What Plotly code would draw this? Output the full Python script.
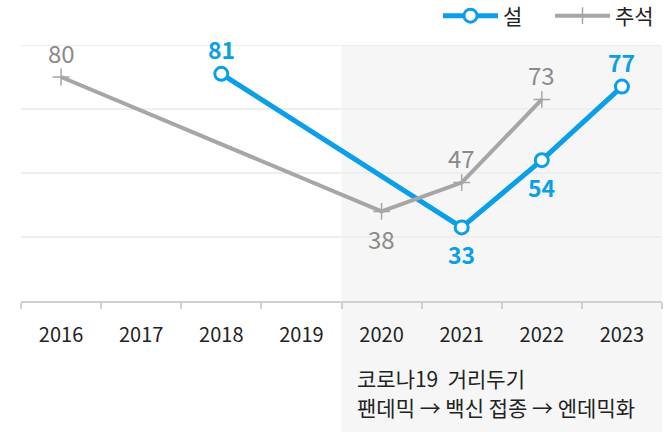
import plotly.graph_objects as go

years = ["2016", "2017", "2018", "2019", "2020", "2021", "2022", "2023"]
seol = [None, None, 81, None, None, 33, 54, 77]
chuseok = [80, None, None, None, 38, 47, 73, None]
# label side: 1 = above the point, -1 = below
seol_side = [1, 1, 1, 1, 1, -1, -1, 1]
chuseok_side = [1, 1, 1, 1, -1, 1, 1, 1]
grid_vals = [10, 30, 50, 70, 90]
note_lines = ["코로나19  거리두기", "팬데믹 → 백신 접종 → 엔데믹화"]

FONT = "Noto Sans CJK KR"
BLUE = "#0a9fe8"
GRAY = "#a6a6a6"

fig = go.Figure()
fig.add_trace(go.Scatter(
    x=years, y=seol, name="설", mode="lines+markers",
    connectgaps=True,
    line=dict(color=BLUE, width=5),
    marker=dict(symbol="circle", size=13, color="white", line=dict(color=BLUE, width=3)),
    cliponaxis=False,
))
fig.add_trace(go.Scatter(
    x=years, y=chuseok, name="추석", mode="lines+markers",
    connectgaps=True,
    line=dict(color=GRAY, width=4),
    marker=dict(symbol="cross-thin", size=12, color=GRAY, line=dict(color=GRAY, width=1.5)),
    cliponaxis=False,
))

for ys, sides, col, bold, size in [
    (seol, seol_side, BLUE, "bold", 23),
    (chuseok, chuseok_side, "#8a8a8a", "normal", 24),
]:
    for i, (yv, sd) in enumerate(zip(ys, sides)):
        if yv is None:
            continue
        fig.add_annotation(x=i, y=yv, xref="x", yref="y", text=str(yv), showarrow=False,
                           yshift=25 if sd > 0 else -27,
                           font=dict(family=FONT, size=size, color=col, weight=bold))

fig.add_shape(type="rect", xref="paper", yref="paper", x0=0.5, x1=1.0, y0=-0.55, y1=1.0,
              fillcolor="#f6f6f6", line=dict(width=0), layer="below")
# top gridline (at range edge)
fig.add_shape(type="line", xref="paper", yref="y", x0=0, x1=1, y0=grid_vals[-1], y1=grid_vals[-1],
              line=dict(color="#eeeeee", width=2), layer="below")

fig.add_annotation(xref="paper", yref="paper", x=0.521, y=-0.299, xanchor="left", yanchor="middle",
                   text=note_lines[0], showarrow=False,
                   font=dict(family=FONT, size=21, color="#222222"))
fig.add_annotation(xref="paper", yref="paper", x=0.521, y=-0.414, xanchor="left", yanchor="middle",
                   text=note_lines[1], showarrow=False,
                   font=dict(family=FONT, size=21, color="#222222"))

fig.update_layout(
    width=671, height=432,
    margin=dict(l=21, r=9, t=45, b=131, autoexpand=False),
    paper_bgcolor="white", plot_bgcolor="rgba(0,0,0,0)",
    font=dict(family=FONT, size=18, color="#222222"),
    showlegend=True,
    legend=dict(orientation="h", x=1.0, xanchor="right", y=1 + 29 / 256, yanchor="middle",
                font=dict(family=FONT, size=21, color="#222222"),
                bgcolor="rgba(0,0,0,0)", itemwidth=55, entrywidth=42, traceorder="normal"),
    xaxis=dict(type="category", categoryorder="array", categoryarray=years,
               range=[-0.5, 7.5], showgrid=False, showline=True, linecolor="#d0d0d0", linewidth=1.5,
               ticks="outside", tickson="boundaries", ticklen=6, tickcolor="#d0d0d0", tickwidth=1.5,
               tickfont=dict(family=FONT, size=20, color="#222222"), ticklabelstandoff=15,
               zeroline=False),
    yaxis=dict(range=[grid_vals[0], grid_vals[-1]], tickvals=grid_vals, showticklabels=False,
               showgrid=True, gridcolor="#eeeeee", gridwidth=2, zeroline=False, showline=False),
)

fig.write_html("out.html", config={"displayModeBar": False},
               post_script="document.body.style.margin='0';")
